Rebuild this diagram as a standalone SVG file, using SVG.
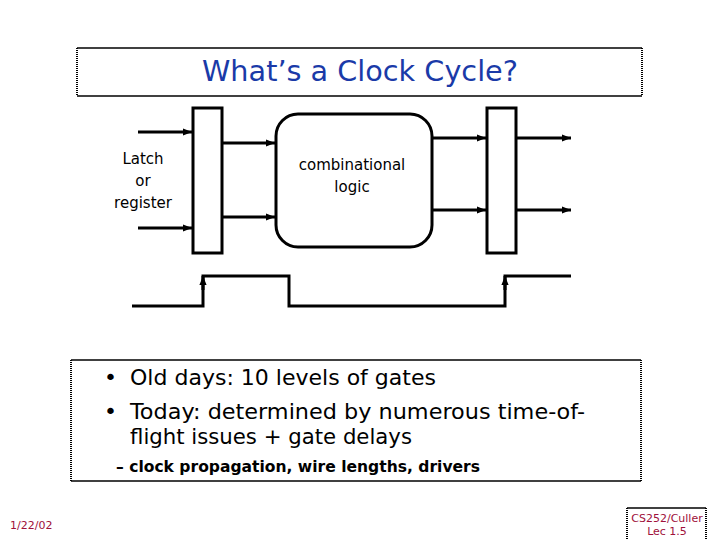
<svg xmlns="http://www.w3.org/2000/svg" width="720" height="540" viewBox="0 0 720 540">
<defs>
<style>
.frame{fill:none;stroke:#000;stroke-width:1.5}
.dot{fill:none;stroke:#000;stroke-width:2;stroke-dasharray:1 1}
.wire{fill:none;stroke:#000;stroke-width:3}
.box{fill:#fff;stroke:#000;stroke-width:3}
.t{font-family:"Comic Sans MS","DejaVu Sans",sans-serif;fill:#000}
.red{font-family:"DejaVu Sans",sans-serif;fill:#a0103a}
</style>
<marker id="ah" viewBox="0 0 10 10" refX="10" refY="5" markerWidth="3" markerHeight="3" orient="auto" markerUnits="strokeWidth">
<path d="M0,1 L10,5 L0,9 z" fill="#000"/>
</marker>
</defs>
<rect width="720" height="540" fill="#fff"/>

<g id="title">
<line class="frame" x1="77" y1="48" x2="642" y2="48"/>
<line class="frame" x1="77" y1="96" x2="642" y2="96"/>
<line class="dot" x1="77" y1="48" x2="77" y2="96"/>
<line class="dot" x1="642" y1="48" x2="642" y2="96"/>
<text class="t" x="360" y="81" font-size="28" text-anchor="middle" fill="#1a3aa8" style="fill:#1a3aa8" textLength="316" lengthAdjust="spacingAndGlyphs">What’s a Clock Cycle?</text>
</g>

<g id="connectors">
<line class="wire" x1="138" y1="132" x2="192" y2="132" marker-end="url(#ah)"/>
<line class="wire" x1="138" y1="228" x2="192" y2="228" marker-end="url(#ah)"/>
<line class="wire" x1="223" y1="143" x2="275" y2="143" marker-end="url(#ah)"/>
<line class="wire" x1="223" y1="217" x2="275" y2="217" marker-end="url(#ah)"/>
<line class="wire" x1="432" y1="138" x2="486" y2="138" marker-end="url(#ah)"/>
<line class="wire" x1="432" y1="210" x2="486" y2="210" marker-end="url(#ah)"/>
<line class="wire" x1="517" y1="138" x2="571" y2="138" marker-end="url(#ah)"/>
<line class="wire" x1="517" y1="210" x2="571" y2="210" marker-end="url(#ah)"/>
</g>

<g id="latch-left">
<rect class="box" x="193" y="108" width="29" height="145"/>
</g>
<g id="latch-label">
<text class="t" font-size="15" text-anchor="middle"><tspan x="143" y="164">Latch</tspan><tspan x="143" y="186">or</tspan><tspan x="143" y="208">register</tspan></text>
</g>

<g id="comb-logic">
<rect class="box" x="276" y="114" width="156" height="133" rx="22" ry="22"/>
<text class="t" font-size="15" text-anchor="middle"><tspan x="352" y="170">combinational</tspan><tspan x="352" y="192">logic</tspan></text>
</g>

<g id="latch-right">
<rect class="box" x="487" y="108" width="29" height="145"/>
</g>

<g id="clock">
<polyline class="wire" points="132,306 203,306 203,276 289,276 289,306 505,306 505,276 571,276"/>
<line class="wire" x1="203" y1="290" x2="203" y2="276" marker-end="url(#ah)"/>
<line class="wire" x1="505" y1="290" x2="505" y2="276" marker-end="url(#ah)"/>
</g>

<g id="bullets">
<line class="frame" x1="71" y1="360" x2="641" y2="360"/>
<line class="frame" x1="71" y1="481" x2="641" y2="481"/>
<line class="dot" x1="71" y1="360" x2="71" y2="481"/>
<line class="dot" x1="641" y1="360" x2="641" y2="481"/>
<text class="t" x="104" y="385" font-size="22">•</text>
<text class="t" x="130" y="385" font-size="22" textLength="306" lengthAdjust="spacingAndGlyphs">Old days: 10 levels of gates</text>
<text class="t" x="104" y="419" font-size="22">•</text>
<text class="t" x="130" y="419" font-size="22" textLength="455" lengthAdjust="spacingAndGlyphs">Today: determined by numerous time-of-</text>
<text class="t" x="130" y="444" font-size="22" textLength="282" lengthAdjust="spacingAndGlyphs">flight issues + gate delays</text>
<text class="t" x="116" y="472" font-size="15" font-weight="bold" textLength="364" lengthAdjust="spacingAndGlyphs">– clock propagation, wire lengths, drivers</text>
</g>

<g id="footer">
<text class="red" x="10" y="529" font-size="11">1/22/02</text>
<line class="frame" x1="627" y1="508" x2="706" y2="508"/>
<line class="dot" x1="627" y1="508" x2="627" y2="540"/>
<line class="dot" x1="706" y1="508" x2="706" y2="540"/>
<text class="red" font-size="11" text-anchor="middle"><tspan x="667" y="522">CS252/Culler</tspan><tspan x="667" y="535">Lec 1.5</tspan></text>
</g>
</svg>
